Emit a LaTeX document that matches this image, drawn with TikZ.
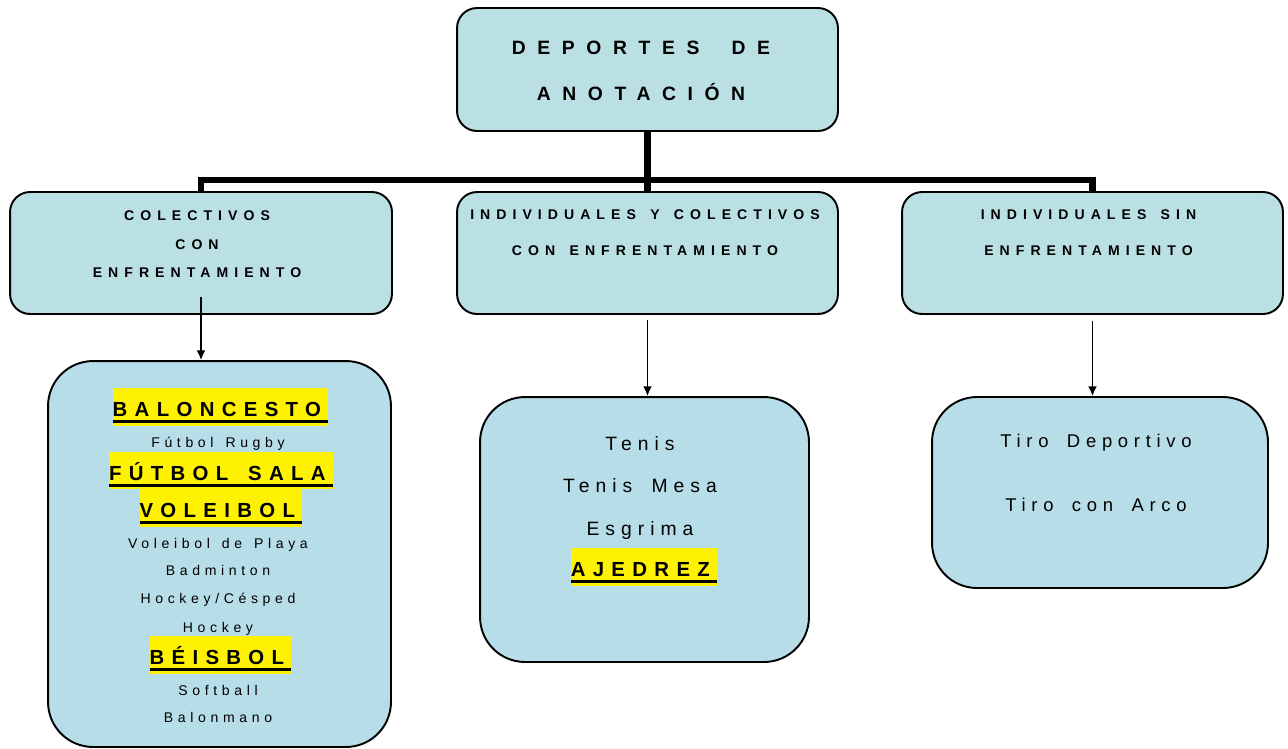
\documentclass[tikz,border=0pt]{standalone}
\usepackage{fontspec}
\setmainfont{Liberation Sans}
\newfontfamily\sperrTitel[LetterSpace=60, WordSpace=1.9]{Liberation Sans}
\newfontfamily\sperrGruppe[LetterSpace=43, WordSpace=1.44]{Liberation Sans}
\newfontfamily\sperrMarkiert[LetterSpace=36, WordSpace=1.52]{Liberation Sans}
\newfontfamily\sperrSport[LetterSpace=33, WordSpace=1.4]{Liberation Sans}
\newfontfamily\sperrGross[LetterSpace=31, WordSpace=1.7]{Liberation Sans}
\usetikzlibrary{arrows.meta}
\definecolor{kastenblau}{RGB}{187,224,227}
\definecolor{listenblau}{RGB}{183,222,232}

\begin{document}
\begin{tikzpicture}[x=0.02cm, y=-0.02cm,
    kasten/.style={draw, line width=1.1pt, fill=kastenblau, rounded corners=0.4cm},
    liste/.style={draw, line width=1.1pt, fill=listenblau, rounded corners=0.9cm},
    balken/.style={line width=3.7pt},
    pfeil/.style={line width=0.9pt, -{Latex[length=5.5pt,width=5pt]}},
    titel/.style={anchor=base, inner sep=0pt, font=\sperrTitel\bfseries\fontsize{11pt}{13pt}\selectfont},
    gruppe/.style={anchor=base, inner sep=0pt, font=\sperrGruppe\bfseries\fontsize{8pt}{10pt}\selectfont},
    sport/.style={anchor=base, inner sep=0pt, font=\sperrSport\fontsize{8pt}{10pt}\selectfont},
    sportgross/.style={anchor=base, inner sep=0pt, font=\sperrGross\fontsize{11pt}{13pt}\selectfont},
    sportrechts/.style={anchor=base, inner sep=0pt, font=\sperrGross\fontsize{10.5pt}{13pt}\selectfont},
    markiert/.style={fill=yellow, inner xsep=0pt, inner ysep=0pt, text height=16.4pt, text depth=5.1pt,
        font=\sperrMarkiert\bfseries\fontsize{11.6pt}{14pt}\selectfont,
        execute at end node={\kern0.36em},
        path picture={\draw[line width=1.7pt] ([yshift=2.3pt]path picture bounding box.south west) -- ([yshift=2.3pt]path picture bounding box.south east);}}]

    \useasboundingbox (0,0) rectangle (1288,748);

    %Oberbegriff
    \node[kasten, minimum width=7.62cm, minimum height=2.46cm] (anotacion) at (647.5,69.5) {};
    \node[titel] (anotacion1) at (641,54) {DEPORTES DE};
    \node[titel] (anotacion2) at (641,100) {ANOTACIÓN};

    %Gruppen
    \node[kasten, minimum width=7.64cm, minimum height=2.44cm] (colectivos) at (201,253) {};
    \node[gruppe] (colectivos1) at (197,220) {COLECTIVOS};
    \node[gruppe] (colectivos2) at (197,249) {CON};
    \node[gruppe] (colectivos3) at (197,277) {ENFRENTAMIENTO};

    \node[kasten, minimum width=7.62cm, minimum height=2.44cm] (mixtos) at (647.5,253) {};
    \node[gruppe] (mixtos1) at (645,219) {INDIVIDUALES Y COLECTIVOS};
    \node[gruppe] (mixtos2) at (645,255) {CON ENFRENTAMIENTO};

    \node[kasten, minimum width=7.62cm, minimum height=2.44cm] (individuales) at (1092.5,253) {};
    \node[gruppe] (individuales1) at (1088.5,219) {INDIVIDUALES SIN};
    \node[gruppe] (individuales2) at (1088.5,255) {ENFRENTAMIENTO};

    %Verbindungsbalken
    \coordinate (verteiler) at (647.5,180);
    \draw[balken] (anotacion.south) -- (verteiler);
    \draw[balken] (verteiler) -| (colectivos.north);
    \draw[balken] (verteiler) -| (individuales.north);
    \draw[balken] (verteiler) -- (mixtos.north);

    %Liste links
    \node[liste, minimum width=6.86cm, minimum height=7.72cm] (lista1) at (219.5,554) {};
    \node[markiert] (baloncesto) at (220.5,407) {BALONCESTO};
    \node[sport] (rugby) at (218,447) {Fútbol Rugby};
    \node[markiert] (sala) at (221,470.5) {FÚTBOL SALA};
    \node[markiert] (voleibol) at (221,508) {VOLEIBOL};
    \node[sport] (playa) at (218,548) {Voleibol de Playa};
    \node[sport] (badminton) at (218,575) {Badminton};
    \node[sport] (cesped) at (218,603) {Hockey/Césped};
    \node[sport] (hockey) at (218,632) {Hockey};
    \node[markiert] (beisbol) at (220.5,655) {BÉISBOL};
    \node[sport] (softball) at (218,695) {Softball};
    \node[sport] (balonmano) at (218,722) {Balonmano};

    %Liste Mitte
    \node[liste, minimum width=6.58cm, minimum height=5.3cm] (lista2) at (644.5,529.5) {};
    \node[sportgross] (tenis) at (640,450) {Tenis};
    \node[sportgross] (mesa) at (640,492) {Tenis Mesa};
    \node[sportgross] (esgrima) at (640,535) {Esgrima};
    \node[markiert] (ajedrez) at (644,567) {AJEDREZ};

    %Liste rechts
    \node[liste, minimum width=6.72cm, minimum height=3.82cm] (lista3) at (1100,492.5) {};
    \node[sportrechts] (deportivo) at (1096,447) {Tiro Deportivo};
    \node[sportrechts] (arco) at (1096,511) {Tiro con Arco};

    %Pfeile
    \draw[pfeil] ([yshift=0.36cm]colectivos.south) -- (colectivos.south |- lista1.north);
    \draw[pfeil] ([yshift=-0.1cm]mixtos.south) -- (mixtos.south |- lista2.north);
    \draw[pfeil] ([yshift=-0.12cm]individuales.south) -- (individuales.south |- lista3.north);

\end{tikzpicture}
\end{document}
